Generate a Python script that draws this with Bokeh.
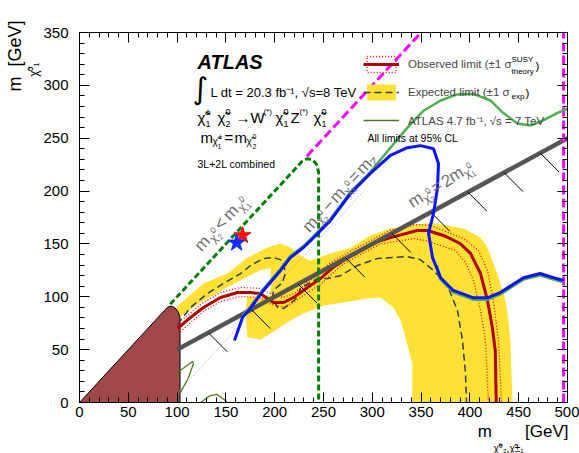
import math
from bokeh.plotting import figure
from bokeh.models import LinearAxis, SingleIntervalTicker, Label, Legend, LegendItem, Title
from bokeh.embed import file_html
from bokeh.resources import INLINE

CHI = "\u03c7\u0303"
NB = "\u00a0"

# ---------------- data (GeV) ----------------
obs_x = [100.4, 113.7, 127, 144.5, 161.9, 175.2, 185.5, 192.6, 198.8, 209, 219.3, 233.6, 247, 260, 275,
         290, 305, 318.6, 346, 356.6, 373, 390, 400.6, 410.9, 418, 423, 426, 427]
obs_y = [70, 80.4, 89.9, 99.3, 104, 104, 103, 98.4, 94.6, 94.6, 99.3, 108.8, 117.3, 128, 137,
         145, 152, 156, 162.7, 162.7, 158, 150.4, 141, 122, 96.5, 71, 49, 0]

th_up_x = [102, 127, 144.5, 165, 185.5, 195.7, 209, 221.3, 236.7, 257, 277.7, 298, 318.6, 344, 359.6,
           393.4, 408.8, 418, 424, 429.3, 432.4]
th_up_y = [76, 94.6, 104, 108.8, 107.9, 103, 99.3, 104, 116, 132, 143, 153, 163, 168.4, 167.5,
           155, 143.8, 124.9, 96.5, 58.7, 0]
th_dn_x = [102, 127, 144.5, 165, 185.5, 193.6, 209, 219.3, 233.6, 247, 267.4, 288, 308.4, 342.2, 354.5,
           385, 395.5, 403.7, 410.9, 416, 419]
th_dn_y = [66, 86, 95.6, 100.3, 99.3, 93.7, 90, 94.6, 104, 111.6, 129, 140, 150, 155, 153.3,
           143.8, 132.5, 115.4, 87, 58.7, 0]

exp_x = [100.4, 113.7, 131, 147.5, 165, 175.2, 188.5, 198.8, 208, 211, 208, 198.8, 197.7, 202.9, 209,
         216.2, 223.4, 226.4, 243.9, 254, 267.4, 284.8, 305.3, 336, 349.4, 362.7, 377, 387.3, 392.4,
         395.5, 396.5]
exp_y = [73.8, 89.9, 103, 112.6, 122, 129.6, 136.2, 137.2, 134.3, 123, 113.5, 106, 99.3, 89.9, 88.9,
         93.7, 99.3, 107.9, 117.3, 117.3, 120, 129.6, 136.2, 138, 135, 124.9, 110.7, 87, 58.7,
         27.4, 0]

band_outer_x = [100, 127, 151.6, 172, 192.6, 206, 216, 229.5, 236.7, 260, 277, 298, 318.6, 339, 359.6,
                393.4, 410.9, 418, 428, 436.5, 439.5, 441.6, 443.6]
band_outer_y = [91, 112.6, 122, 137, 146.6, 150.4, 146.6, 137, 134, 142, 146, 158, 164.6, 167.5, 170,
                164.6, 156, 146.6, 122, 96.5, 77.6, 55.8, 0]
band_inner_x = [341, 341, 334, 329, 321.7, 308.4, 295, 270.5, 250, 229.5, 216, 195.7, 185.5, 172, 170,
                172, 195.7, 196, 185, 170, 151.6, 127, 100.4]
band_inner_y = [0, 37, 61.5, 77.6, 89.9, 99.3, 98.4, 94.6, 91.8, 84.2, 77.6, 65.3, 59.6, 61.5, 87,
                100, 101, 127, 125, 118, 109, 96.5, 79.5]

lep_x = [0, 87, 90, 93, 96, 99, 101.5, 103, 103]
lep_y = [0, 87, 90, 91, 90.5, 88.5, 85, 80, 0]

blue_x = [158.8, 167, 175, 188.5, 206, 216, 229.5, 236.7, 257, 277.7, 298, 318.6, 336, 349.4, 362.7,
          367.8, 366.8, 362.7, 357.6, 361.7, 370, 383, 403.7, 418, 431, 455, 472, 485.7, 496]
blue_y = [58.7, 80.4, 89, 106, 124.9, 137, 146.6, 153, 172, 197.7, 216.7, 233.7, 241, 243, 240,
          226, 203, 178.8, 160, 137, 118, 106, 99, 99, 104, 118, 122, 118, 115.4]

g7_x = [167, 175, 188.5, 206, 216, 229.5, 236.7, 257, 277.7, 296, 318.6, 336, 352.5, 370, 387, 403.7,
        421, 434, 448.8, 462, 475, 489.8, 503]
g7_y = [82, 90.5, 107.5, 126.4, 138.5, 148.1, 154.5, 173.5, 199.2, 216, 241, 260, 276, 285.7, 291.4,
        292, 285.7, 274, 264, 262, 266.8, 274, 279]
g7b_x = [366, 370, 383, 403.7, 418, 431, 455, 472, 485.7, 496]
g7b_y = [130, 116.5, 104.5, 97.5, 97.5, 102.5, 116.5, 120.5, 116.5, 114]
g7c_x = [99, 100.4, 115.8, 116.8, 111.7, 103.5, 100.4]
g7c_y = [26, 28.4, 38.8, 36.9, 23.7, 9.5, 6.6]
g7d_x = [124, 127, 134, 141, 149.4, 151]
g7d_y = [0, 1.9, 6.6, 7.6, 1.9, 0]

kin_x = [93, 228, 233, 238, 242.5, 245, 245]
kin_y = [93, 228, 230.6, 230, 226, 218, 0]

mag_diag_x = [233, 380]
mag_diag_y = [233, 380]
mag_vert_x = [496, 496]
mag_vert_y = [0, 372]

half_x = [100, 500]
half_y = [50, 250]
mz_x = [100, 290]
mz_y = [8.8, 198.8]

hatch_x = [132, 176, 224, 273, 320, 360, 398, 435, 472]
hatch_y = [66, 88, 112, 136.5, 160, 180, 199, 217.5, 236]

star_x = [167, 161]
star_y = [158, 151]
star_c = ["#ff1010", "#1030ff"]

# ---------------- figure ----------------
p = figure(width=579, height=453, x_range=(0, 500), y_range=(0, 350),
           output_backend="svg", toolbar_location=None,
           min_border_left=79, min_border_right=12, min_border_top=32, min_border_bottom=51)
p.grid.visible = False
p.outline_line_color = "black"
p.background_fill_color = "white"
p.border_fill_color = "white"

FL, FW, FB, FH = 79.0, 488.0, 402.0, 370.0


def px2d(X, Y):
    return (X - FL) * 500.0 / FW, (FB - Y) * 350.0 / FH


def style_axis(ax, labels=True, standoff=5):
    ax.ticker = SingleIntervalTicker(interval=50, num_minor_ticks=5)
    ax.major_tick_in = 10
    ax.major_tick_out = 0
    ax.minor_tick_in = 5
    ax.minor_tick_out = 0
    ax.axis_line_color = "black"
    ax.major_tick_line_color = "black"
    ax.minor_tick_line_color = "black"
    if labels:
        ax.major_label_text_font = "Liberation Sans"
        ax.major_label_text_font_size = "15px"
        ax.major_label_text_color = "black"
        ax.major_label_standoff = standoff
    else:
        ax.major_label_text_font_size = "1px"
        ax.major_label_text_color = None
        ax.major_label_standoff = 0


style_axis(p.xaxis[0], True, 4)
style_axis(p.yaxis[0], True, 11)
top = LinearAxis()
style_axis(top, False)
p.add_layout(top, "above")
right = LinearAxis()
style_axis(right, False)
p.add_layout(right, "right")

# ---------------- axis titles ----------------
def title(text, size, align, offset):
    return Title(text=text, align=align, offset=offset, standoff=0, text_font="Liberation Sans",
                 text_font_size=f"{size}px", text_font_style="normal", text_color="black")


p.add_layout(title(CHI + "\u2070\u2081", 12, "right", 30), "left")
p.add_layout(title("m" + NB * 2 + "[GeV]", 18, "right", -12), "left")
p.add_layout(title("m" + NB * 7 + "[GeV]", 17, "right", -1), "below")
p.add_layout(title(CHI + "\u2070\u2082," + CHI + "\u00b1\u2081", 10, "right", 44), "below")

# ---------------- glyphs ----------------
r_band = p.patch(band_outer_x + band_inner_x, band_outer_y + band_inner_y,
                 fill_color="#ffe135", line_color=None)
p.patch(lep_x, lep_y, fill_color="#a04848", line_color="black", line_width=1)
p.line(mz_x, mz_y, line_color="#999999", line_width=1, line_dash="1 2")
r_exp = p.line(exp_x, exp_y, line_color="#2f3f4f", line_width=1.5, line_dash="7 4")
r_th = p.patch(th_up_x + th_dn_x[::-1], th_up_y + th_dn_y[::-1], fill_color=None,
               line_color="#e01010", line_width=1.3, line_dash="1 2")
r_obs = p.line(obs_x, obs_y, line_color="#b00000", line_width=3)
p.line(half_x, half_y, line_color="#555555", line_width=4.5)
p.segment(x0=hatch_x, y0=hatch_y, x1=[x + 19.4 for x in hatch_x], y1=[y - 18.0 for y in hatch_y],
          line_color="black", line_width=1)
p.line(kin_x, kin_y, line_color="#008000", line_width=3, line_dash="6 3")
p.line(mag_diag_x, mag_diag_y, line_color="#ff00ff", line_width=3, line_dash="9 4")
p.line(mag_vert_x, mag_vert_y, line_color="#ff00ff", line_width=3, line_dash="9 4")
r_g7s = p.line(g7c_x, g7c_y, line_color="#4a7a20", line_width=1.3)
p.line(g7d_x, g7d_y, line_color="#4a7a20", line_width=1.3)
p.line(g7_x, g7_y, line_color="#4caf50", line_width=2.5)
p.line(g7b_x, g7b_y, line_color="#4caf50", line_width=3)
p.line(blue_x, blue_y, line_color="#0a14ff", line_width=3)
p.scatter(star_x, star_y, marker="star", size=18, fill_color=star_c, line_color=star_c)

# ---------------- legend ----------------
legend = Legend(items=[
    LegendItem(label="Observed limit (\u00b11 \u03c3", renderers=[r_th, r_obs]),
    LegendItem(label="Expected limit (\u00b11 \u03c3", renderers=[r_band, r_exp]),
    LegendItem(label="ATLAS 4.7 fb\u207b\u00b9, \u221as = 7 TeV", renderers=[r_g7s]),
], location=(284, 272), glyph_width=36, glyph_height=20, label_height=20, spacing=8,
    padding=0, margin=0, border_line_color=None, background_fill_alpha=0,
    label_standoff=9, label_text_font="Liberation Sans", label_text_font_size="11.5px")
p.add_layout(legend)


# ---------------- texts inside the frame ----------------
def txt(X, Y, s, size, angle_deg=0.0, align="left", color="black", font="Liberation Sans",
        style="normal"):
    xd, yd = px2d(X, Y)
    p.add_layout(Label(x=xd, y=yd, text=s, text_font_size=f"{size}px", text_font=font,
                       text_font_style=style, text_color=color, text_align=align,
                       text_baseline="middle", angle=math.radians(angle_deg)))


def comp(X0, Y0, pieces, angle_deg=0.0, color="black"):
    th = math.radians(angle_deg)
    ux, uy = math.cos(th), -math.sin(th)
    nx, ny = math.sin(th), math.cos(th)
    for s, size, a, q in pieces:
        txt(X0 + a * ux + q * nx, Y0 + a * uy + q * ny, s, size, angle_deg, "left", color)


# legend superscripts / subscripts
txt(511, 59, "SUSY", 8)
txt(511, 71, "theory", 8)
txt(535, 65, ")", 11.5)
txt(511, 96, "exp", 8)
txt(525, 92, ")", 11.5)
txt(367, 137, "All limits at 95% CL", 10.5)

# ATLAS block
txt(197, 61, "ATLAS", 20, style="bold italic")
txt(192, 88, "\u222b", 30, font="DejaVu Sans")
txt(210, 92, "L dt = 20.3 fb\u207b\u00b9, \u221as=8 TeV", 13)
comp(197, 117, [
    (CHI, 15, 0, 0), ("\u00b1", 9, 8, -6), ("1", 9, 8, 6),
    (CHI, 15, 20, 0), ("0", 9, 28, -6), ("2", 9, 28, 6),
    ("\u2192", 15, 38, 0), ("W", 15, 53, 0), ("(*)", 8, 66, -6),
    (CHI, 15, 78, 0), ("0", 9, 86, -6), ("1", 9, 86, 6),
    ("Z", 15, 93, 0), ("(*)", 8, 102, -6),
    (CHI, 15, 116, 0), ("0", 9, 124, -6), ("1", 9, 124, 6),
])
comp(200, 137, [
    ("m", 15, 0, 0), (CHI, 10, 12, 4), ("\u00b1", 7, 18, -1), ("1", 7, 17, 9),
    ("=", 15, 24, 0), ("m", 15, 34, 0), (CHI, 10, 46, 4), ("0", 7, 52, -1), ("2", 7, 52, 9),
])
txt(197, 163, "3L+2L combined", 10.5)

# diagonal annotations
GRAY = "#707070"
comp(197, 248, [("m", 17, 0, 0), (CHI, 12, 15, 5), ("0", 8, 22, -1), ("2", 8, 22, 9),
                ("<", 17, 29, 0), ("m", 17, 42, 0), (CHI, 12, 57, 5), ("0", 8, 64, -1),
                ("1", 8, 64, 9)], 47.2, GRAY)
comp(305, 229, [("m", 17, 0, 0), (CHI, 12, 14, 5), ("0", 8, 20, -1), ("2", 8, 20, 9),
                ("\u2212", 17, 28, 0), ("m", 17, 40, 0), (CHI, 12, 54, 5), ("0", 8, 60, -1),
                ("1", 8, 60, 9), ("=", 17, 67, 0), ("m", 17, 79, 0), ("Z", 12, 93, 5)],
     47.2, GRAY)
comp(409, 203, [("m", 17, 0, 0), (CHI, 12, 14, 5), ("0", 8, 20, -1), ("2", 8, 20, 9),
                ("=", 17, 27, 0), ("2", 17, 39, 0), ("m", 17, 48, 0), (CHI, 12, 62, 5),
                ("0", 8, 68, -1), ("1", 8, 68, 9)], 32, GRAY)

open("out.html", "w").write(file_html(p, INLINE))
